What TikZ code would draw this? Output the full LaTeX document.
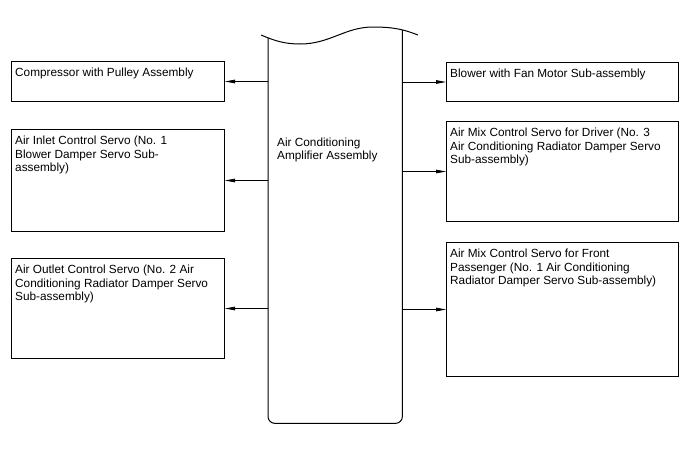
\documentclass[tikz,border=0pt]{standalone}
\usepackage{fontspec}
\setmainfont{Liberation Sans}
\usetikzlibrary{arrows.meta}
\begin{document}
\begin{tikzpicture}[x=1pt,y=-1pt,
  box/.style={draw, line width=1pt, anchor=north west, inner sep=0pt, minimum width=#1},
  box/.default=213pt,
  lbl/.style={font=\fontsize{11.8}{13.3}\selectfont, align=left, anchor=north west, inner sep=0pt},
  arr/.style={line width=0.8pt, -{Triangle[length=10pt,width=3.6pt]}}]
\useasboundingbox[fill=white] (0,0) rectangle (688,463);
% central amplifier
\node[anchor=north west, inner sep=0pt, minimum width=134pt, minimum height=385pt] (amp) at (268,38) {};
\draw[line width=1pt, rounded corners=7pt] (amp.north west) -- (amp.south west) -- (amp.south east) -- ([yshift=8pt]amp.north east);
\draw[line width=1pt] (261,35) .. controls (275,41) and (285,44) .. (300,44)
  .. controls (330,44) and (345,27) .. (373,27)
  .. controls (395,27) and (405,30) .. (418,35);
\node[lbl] (tamp) at (277,137.5) {Air Conditioning\\Amplifier Assembly};
% left boxes
\node[box, minimum height=40pt] (b1) at (11,61) {};
\node[box, minimum height=102pt] (b2) at (11,129) {};
\node[box, minimum height=100pt] (b3) at (11,258) {};
% right boxes
\node[box=232pt, minimum height=39pt] (b4) at (446,62) {};
\node[box=232pt, minimum height=100pt] (b5) at (446,121) {};
\node[box=232pt, minimum height=134pt] (b6) at (446,242) {};
% labels
\node[lbl] (t1) at ([xshift=4pt,yshift=-7pt]b1.north west) {Compressor with Pulley Assembly};
\node[lbl] (t2) at ([xshift=4pt,yshift=-7pt]b2.north west) {Air Inlet Control Servo (No. 1\\Blower Damper Servo Sub-\\assembly)};
\node[lbl] (t3) at ([xshift=4pt,yshift=-7pt]b3.north west) {Air Outlet Control Servo (No. 2 Air\\Conditioning Radiator Damper Servo\\Sub-assembly)};
\node[lbl] (t4) at ([xshift=4pt,yshift=-7pt]b4.north west) {Blower with Fan Motor Sub-assembly};
\node[lbl] (t5) at ([xshift=4pt,yshift=-7pt]b5.north west) {Air Mix Control Servo for Driver (No. 3\\Air Conditioning Radiator Damper Servo\\Sub-assembly)};
\node[lbl] (t6) at ([xshift=4pt,yshift=-7pt]b6.north west) {Air Mix Control Servo for Front\\Passenger (No. 1 Air Conditioning\\Radiator Damper Servo Sub-assembly)};
% connectors
\draw[arr] (amp.west |- b1.east) -- (b1.east);
\draw[arr] (amp.west |- b2.east) -- (b2.east);
\draw[arr] (amp.west |- b3.east) -- (b3.east);
\draw[arr] (amp.east |- b4.west) -- (b4.west);
\draw[arr] (amp.east |- b5.west) -- (b5.west);
\draw[arr] (amp.east |- b6.west) -- (b6.west);
\end{tikzpicture}
\end{document}
